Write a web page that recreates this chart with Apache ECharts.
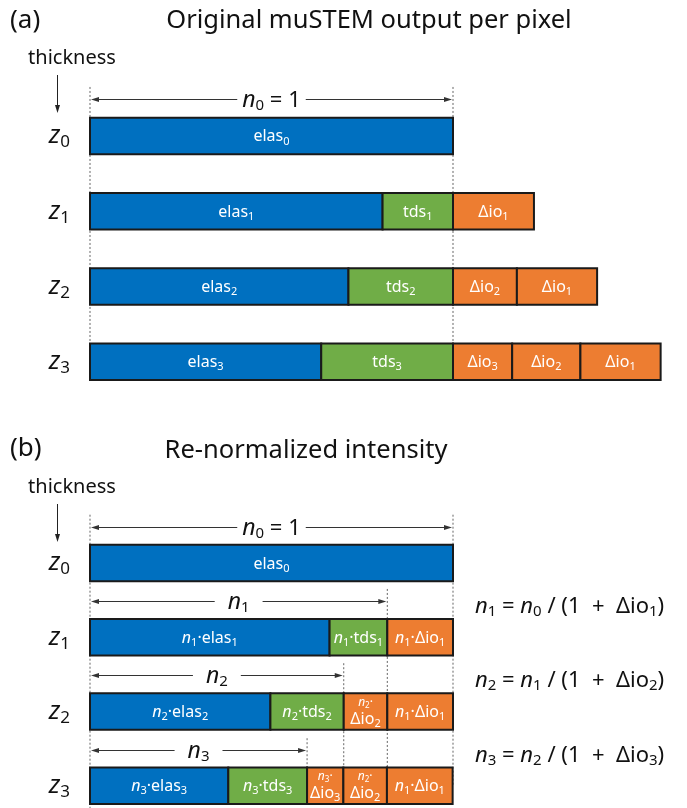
<!DOCTYPE html>
<html><head><meta charset="utf-8">
<script src="https://cdn.jsdelivr.net/npm/echarts@6.0.0/dist/echarts.min.js"></script>
<style>html,body{margin:0;padding:0;background:#fff}#c{width:687px;height:808px}</style>
</head><body><div id="c"></div>
<script>
// ---------- data (unit: n0 = 1) ----------
const rowSubs = ['0', '1', '2', '3'];            // thickness z0..z3
// (a) original muSTEM output per pixel
const elasA = [1.000, 0.806, 0.712, 0.637];
const tdsA  = [0, 0.194, 0.288, 0.363];
const dioA  = [[], [0.223], [0.176, 0.221], [0.163, 0.188, 0.221]]; // Δio_k, k = row .. 1
const n0 = 1;
// (b) re-normalized intensity
const nB    = [1.000, 0.819, 0.699, 0.598];
const elasB = [1.000, 0.660, 0.497, 0.381];
const tdsB  = [0, 0.159, 0.202, 0.217];
const dioB  = [[], [0.181], [0.120, 0.181], [0.100, 0.120, 0.181]];

// ---------- styling ----------
const FONT = '"Noto Sans", "Open Sans", sans-serif';
const COLORS = { elas: '#0070C0', tds: '#70AD47', dio: '#ED7D31' };
const BAR_H = 36.5;
const XMAX = 1.6;

const RICH_BAR = {
  t:  { fontSize: 16, fontFamily: FONT, fill: '#fff', lineHeight: 20 },
  i:  { fontSize: 16, fontFamily: FONT, fontStyle: 'italic', fill: '#fff', lineHeight: 20 },
  s:  { fontSize: 11, fontFamily: FONT, fill: '#fff', lineHeight: 10, verticalAlign: 'bottom' },
  ii: { fontSize: 12, fontFamily: FONT, fontStyle: 'italic', fill: '#fff', lineHeight: 14 },
  ss: { fontSize: 8,  fontFamily: FONT, fill: '#fff', lineHeight: 8, verticalAlign: 'bottom' },
  tt: { fontSize: 12, fontFamily: FONT, fill: '#fff', lineHeight: 14 }
};
const RICH_ANN = {
  t: { fontSize: 22, fontFamily: FONT, fill: '#111', lineHeight: 26 },
  i: { fontSize: 23, fontFamily: FONT, fontStyle: 'italic', fill: '#111', lineHeight: 26 },
  s: { fontSize: 15, fontFamily: FONT, fill: '#111', lineHeight: 12, verticalAlign: 'bottom' }
};
const RICH_F = {
  t: { fontSize: 22, fontFamily: FONT, fill: '#111', lineHeight: 26 },
  i: { fontSize: 22, fontFamily: FONT, fontStyle: 'italic', fill: '#111', lineHeight: 26 },
  s: { fontSize: 15, fontFamily: FONT, fill: '#111', lineHeight: 12, verticalAlign: 'bottom' }
};

// ---------- build segments ----------
function buildA() {
  const segs = [];
  for (let r = 0; r < elasA.length; r++) {
    let x = 0;
    segs.push({ x0: x, x1: x + elasA[r], row: r, kind: 'elas', label: `{t|elas}{s|${r}}` }); x += elasA[r];
    if (tdsA[r] > 0) { segs.push({ x0: x, x1: x + tdsA[r], row: r, kind: 'tds', label: `{t|tds}{s|${r}}` }); x += tdsA[r]; }
    dioA[r].forEach((v, j) => {
      const k = r - j;
      segs.push({ x0: x, x1: x + v, row: r, kind: 'dio', label: `{t|Δio}{s|${k}}` }); x += v;
    });
  }
  return segs;
}
function buildB() {
  const segs = [];
  for (let r = 0; r < elasB.length; r++) {
    let x = 0;
    const el = r === 0 ? `{t|elas}{s|0}` : `{i|n}{s|${r}}{t|·elas}{s|${r}}`;
    segs.push({ x0: x, x1: x + elasB[r], row: r, kind: 'elas', label: el }); x += elasB[r];
    if (tdsB[r] > 0) { segs.push({ x0: x, x1: x + tdsB[r], row: r, kind: 'tds', label: `{i|n}{s|${r}}{t|·tds}{s|${r}}` }); x += tdsB[r]; }
    dioB[r].forEach((v, j) => {
      const k = r - j;
      const lab = k === 1 ? `{i|n}{s|1}{t|·Δio}{s|1}` : `{ii|n}{ss|${k}}{tt|·}\n{t|Δio}{s|${k}}`;
      segs.push({ x0: x, x1: x + v, row: r, kind: 'dio', label: lab }); x += v;
    });
  }
  return segs;
}
const segsA = buildA(), segsB = buildB();

// dimension arrows
const arrowsA = [{ x1: n0, y: -0.494, label: `{i|n}{s|0}{t| = 1}`, pad: 5 }];
const arrowsB = [
  { x1: nB[0], y: -0.49, label: `{i|n}{s|0}{t| = 1}`, pad: 5 },
  { x1: nB[1], y: 0.507, label: `{i|n}{s|1}`, pad: 13, formula: `{i|n}{s|1}{t| = }{i|n}{s|0}{t| / (1  +  Δio}{s|1}{t|)}` },
  { x1: nB[2], y: 1.507, label: `{i|n}{s|2}`, pad: 13, formula: `{i|n}{s|2}{t| = }{i|n}{s|1}{t| / (1  +  Δio}{s|2}{t|)}` },
  { x1: nB[3], y: 2.52, label: `{i|n}{s|3}`, pad: 13, formula: `{i|n}{s|3}{t| = }{i|n}{s|2}{t| / (1  +  Δio}{s|3}{t|)}` }
];
// dotted guide lines: [x, yTop, yBottom]
const guidesA = [[0, -0.65, 3.24], [n0, -0.65, 3.0]];
const guidesB = [[0, -0.65, 3.3], [nB[0], -0.65, 3.0], [nB[1], 0.35, 3.0], [nB[2], 1.35, 3.0], [nB[3], 2.36, 3.0]];

function segSeries(segs, gi) {
  return {
    type: 'custom', coordinateSystem: 'cartesian2d', xAxisIndex: gi, yAxisIndex: gi, z: 3, silent: true,
    data: segs.map(s => [s.x0, s.x1, s.row]),
    renderItem: (params, api) => {
      const s = segs[params.dataIndex];
      const p0 = api.coord([api.value(0), api.value(2)]);
      const p1 = api.coord([api.value(1), api.value(2)]);
      return { type: 'group', children: [
        { type: 'rect', shape: { x: p0[0], y: p0[1] - BAR_H / 2, width: p1[0] - p0[0], height: BAR_H },
          style: { fill: COLORS[s.kind], stroke: '#1a1a1a', lineWidth: 2 } },
        { type: 'text', x: (p0[0] + p1[0]) / 2, y: p0[1] + 1, z2: 10,
          style: { text: s.label, align: 'center', verticalAlign: 'middle', fill: '#fff', fontFamily: FONT, fontSize: 16, rich: RICH_BAR } }
      ] };
    }
  };
}
function guideSeries(g, gi) {
  return {
    type: 'custom', coordinateSystem: 'cartesian2d', xAxisIndex: gi, yAxisIndex: gi, z: 1, silent: true,
    data: g,
    renderItem: (params, api) => {
      const a = api.coord([api.value(0), api.value(1)]);
      const b = api.coord([api.value(0), api.value(2)]);
      return { type: 'line', shape: { x1: a[0], y1: a[1], x2: b[0], y2: b[1] },
        style: { stroke: '#666', lineWidth: 1, lineDash: [2, 2] } };
    }
  };
}
function arrowSeries(arr, gi) {
  return {
    type: 'custom', coordinateSystem: 'cartesian2d', xAxisIndex: gi, yAxisIndex: gi, z: 4, silent: true,
    data: arr.map(a => [0, a.x1, a.y]),
    renderItem: (params, api) => {
      const a = arr[params.dataIndex];
      const p0 = api.coord([api.value(0), api.value(2)]);
      const p1 = api.coord([api.value(1), api.value(2)]);
      const y = Math.round(p0[1]) + 0.5;
      const xa = p0[0] + 1, xb = p1[0] - 1;
      const ch = [
        { type: 'line', shape: { x1: xa + 2, y1: y, x2: xb - 2, y2: y }, style: { stroke: '#333', lineWidth: 1 } },
        { type: 'polygon', shape: { points: [[xa, y], [xa + 8, y - 2.5], [xa + 8, y + 2.5]] }, style: { fill: '#333' } },
        { type: 'polygon', shape: { points: [[xb, y], [xb - 8, y - 2.5], [xb - 8, y + 2.5]] }, style: { fill: '#333' } },
        { type: 'text', x: (xa + xb) / 2, y: y + 1, z2: 10,
          style: { text: a.label, align: 'center', verticalAlign: 'middle', rich: RICH_ANN, fontFamily: FONT, fontSize: 22,
                   backgroundColor: '#fff', padding: [0, a.pad, 0, a.pad] } }
      ];
      if (a.formula) {
        const pr = api.coord([1, api.value(2)]);
        ch.push({ type: 'text', x: pr[0] + 22, y: y + 5,
          style: { text: a.formula, align: 'left', verticalAlign: 'middle', rich: RICH_F, fontFamily: FONT, fontSize: 22 } });
      }
      return { type: 'group', children: ch };
    }
  };
}

function yAxisCfg(gi) {
  return {
    gridIndex: gi, type: 'value', inverse: true, min: -1, max: 3.3, interval: 1,
    axisLine: { show: false }, axisTick: { show: false }, splitLine: { show: false },
    axisLabel: {
      margin: 20,
      formatter: v => (Number.isInteger(v) && v >= 0 && v < rowSubs.length) ? `{z|z}{s|${rowSubs[v]}}` : '',
      rich: {
        z: { fontSize: 26, fontStyle: 'italic', fontFamily: FONT, color: '#111', lineHeight: 30 },
        s: { fontSize: 17, fontFamily: FONT, color: '#111', lineHeight: 14, verticalAlign: 'bottom' }
      }
    }
  };
}

function txt(x, y, text, size, align) {
  return { type: 'text', x: x, y: y, style: { text: text, fontFamily: FONT, fontSize: size, fill: '#111', align: align || 'center', verticalAlign: 'middle' } };
}
function downArrow(x, y0, y1) {
  return [
    { type: 'line', shape: { x1: x + 0.5, y1: y0, x2: x + 0.5, y2: y1 - 6 }, style: { stroke: '#222', lineWidth: 1 } },
    { type: 'polygon', shape: { points: [[x + 0.5, y1], [x - 2, y1 - 8], [x + 3, y1 - 8]] }, style: { fill: '#222' } }
  ];
}

const chart = echarts.init(document.getElementById('c'), null, { renderer: 'canvas' });
chart.setOption({
  backgroundColor: '#fff',
  animation: false,
  grid: [
    { left: 90, top: 60.6, width: XMAX * 363, height: 4.3 * 75.3 },
    { left: 90, top: 488.7, width: XMAX * 363, height: 4.3 * 75 }
  ],
  xAxis: [
    { gridIndex: 0, type: 'value', min: 0, max: XMAX, show: false },
    { gridIndex: 1, type: 'value', min: 0, max: XMAX, show: false }
  ],
  yAxis: [yAxisCfg(0), yAxisCfg(1)],
  series: [
    guideSeries(guidesA, 0), segSeries(segsA, 0), arrowSeries(arrowsA, 0),
    guideSeries(guidesB, 1), segSeries(segsB, 1), arrowSeries(arrowsB, 1)
  ],
  graphic: [
    txt(10, 21, '(a)', 26, 'left'),
    txt(369, 21, 'Original muSTEM output per pixel', 25.5),
    txt(72, 58, 'thickness', 20),
    ...downArrow(57, 75, 113),
    txt(10, 449, '(b)', 26, 'left'),
    txt(306, 451, 'Re-normalized intensity', 25.5),
    txt(72, 487, 'thickness', 20),
    ...downArrow(57, 504, 542)
  ]
});
</script></body></html>
